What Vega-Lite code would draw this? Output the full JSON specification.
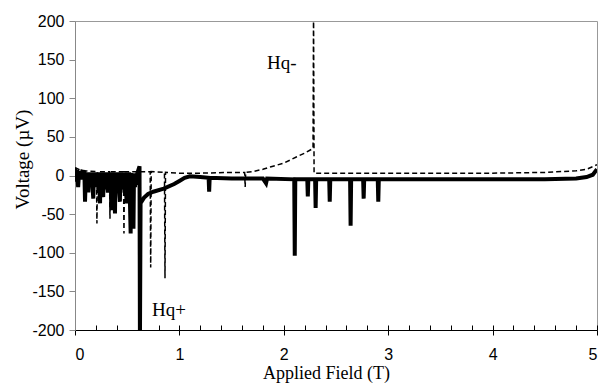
{
  "$schema": "https://vega.github.io/schema/vega-lite/v6.json",
  "width": 522,
  "height": 309,
  "autosize": {"type": "none"},
  "padding": {"left": 75, "top": 21, "right": 6, "bottom": 53},
  "background": "white",
  "config": {
    "view": {"stroke": "#999999", "strokeWidth": 1},
    "axis": {"grid": false}
  },
  "datasets": {
    "up": [
      {"x": 0.0, "y": 10}, {"x": 0.01, "y": -8}, {"x": 0.02, "y": 7}, {"x": 0.03, "y": -15}, {"x": 0.04, "y": 6},
      {"x": 0.06, "y": -5}, {"x": 0.07, "y": 5}, {"x": 0.09, "y": 4}, {"x": 0.096, "y": -34}, {"x": 0.105, "y": 4},
      {"x": 0.115, "y": -10}, {"x": 0.12, "y": 4}, {"x": 0.128, "y": -22}, {"x": 0.135, "y": 4},
      {"x": 0.15, "y": -12}, {"x": 0.16, "y": 4}, {"x": 0.175, "y": -30}, {"x": 0.18, "y": 4},
      {"x": 0.2, "y": -15}, {"x": 0.21, "y": 4}, {"x": 0.225, "y": -18}, {"x": 0.23, "y": 4},
      {"x": 0.24, "y": -36}, {"x": 0.245, "y": 4}, {"x": 0.255, "y": -14}, {"x": 0.26, "y": 4},
      {"x": 0.27, "y": -28}, {"x": 0.275, "y": 4}, {"x": 0.29, "y": -18}, {"x": 0.3, "y": 4},
      {"x": 0.315, "y": -22}, {"x": 0.32, "y": 4}, {"x": 0.335, "y": -15}, {"x": 0.34, "y": 4},
      {"x": 0.35, "y": -45}, {"x": 0.355, "y": 4}, {"x": 0.365, "y": -20}, {"x": 0.37, "y": 4},
      {"x": 0.383, "y": -49}, {"x": 0.388, "y": 4}, {"x": 0.4, "y": -16}, {"x": 0.41, "y": 4},
      {"x": 0.43, "y": -34}, {"x": 0.435, "y": 4}, {"x": 0.45, "y": -18}, {"x": 0.46, "y": 4},
      {"x": 0.475, "y": -22}, {"x": 0.48, "y": 4}, {"x": 0.495, "y": -36}, {"x": 0.5, "y": 4},
      {"x": 0.515, "y": -20}, {"x": 0.52, "y": 4}, {"x": 0.533, "y": -75}, {"x": 0.538, "y": 3},
      {"x": 0.548, "y": -25}, {"x": 0.552, "y": 3}, {"x": 0.56, "y": -69}, {"x": 0.565, "y": 3},
      {"x": 0.575, "y": -15}, {"x": 0.58, "y": 2}, {"x": 0.59, "y": -12}, {"x": 0.595, "y": 2},
      {"x": 0.618, "y": 12}, {"x": 0.622, "y": -215}, {"x": 0.628, "y": -36},
      {"x": 0.66, "y": -29}, {"x": 0.7, "y": -24}, {"x": 0.75, "y": -21}, {"x": 0.85, "y": -17},
      {"x": 0.95, "y": -11}, {"x": 1.0, "y": -7}, {"x": 1.05, "y": -3}, {"x": 1.1, "y": -1},
      {"x": 1.2, "y": -2}, {"x": 1.28, "y": -3}, {"x": 1.285, "y": -21}, {"x": 1.29, "y": -3},
      {"x": 1.5, "y": -4}, {"x": 1.8, "y": -4}, {"x": 1.83, "y": -10}, {"x": 1.84, "y": -4},
      {"x": 2.1, "y": -5}, {"x": 2.105, "y": -104}, {"x": 2.11, "y": -5},
      {"x": 2.225, "y": -5}, {"x": 2.23, "y": -27}, {"x": 2.235, "y": -5},
      {"x": 2.3, "y": -5}, {"x": 2.305, "y": -42}, {"x": 2.31, "y": -5},
      {"x": 2.435, "y": -5}, {"x": 2.44, "y": -34}, {"x": 2.445, "y": -5},
      {"x": 2.635, "y": -5}, {"x": 2.64, "y": -65}, {"x": 2.645, "y": -5},
      {"x": 2.76, "y": -5}, {"x": 2.765, "y": -30}, {"x": 2.77, "y": -5},
      {"x": 2.9, "y": -5}, {"x": 2.905, "y": -34}, {"x": 2.91, "y": -5},
      {"x": 3.5, "y": -5}, {"x": 4.0, "y": -5}, {"x": 4.5, "y": -5}, {"x": 4.8, "y": -4},
      {"x": 4.9, "y": -2}, {"x": 4.96, "y": 1}, {"x": 5.0, "y": 8}
    ],
    "down": [
      {"x": 0.0, "y": 10}, {"x": 0.05, "y": 7}, {"x": 0.1, "y": 6}, {"x": 0.205, "y": 5}, {"x": 0.21, "y": -62}, {"x": 0.215, "y": 5},
      {"x": 0.33, "y": 5}, {"x": 0.335, "y": -56}, {"x": 0.34, "y": 5},
      {"x": 0.464, "y": 5}, {"x": 0.469, "y": -75}, {"x": 0.474, "y": 5},
      {"x": 0.6, "y": 5}, {"x": 0.72, "y": 5}, {"x": 0.725, "y": -119}, {"x": 0.73, "y": 5},
      {"x": 0.857, "y": 4}, {"x": 0.862, "y": -133}, {"x": 0.867, "y": 4},
      {"x": 1.0, "y": 3}, {"x": 1.2, "y": 3}, {"x": 1.5, "y": 4}, {"x": 1.625, "y": 4}, {"x": 1.63, "y": -15}, {"x": 1.635, "y": 4},
      {"x": 1.7, "y": 5}, {"x": 1.8, "y": 8}, {"x": 1.87, "y": 11}, {"x": 2.0, "y": 16}, {"x": 2.12, "y": 24},
      {"x": 2.2, "y": 29}, {"x": 2.28, "y": 35}, {"x": 2.285, "y": 215}, {"x": 2.29, "y": 3},
      {"x": 2.5, "y": 3}, {"x": 3.0, "y": 3}, {"x": 3.5, "y": 3}, {"x": 4.0, "y": 3}, {"x": 4.5, "y": 4},
      {"x": 4.8, "y": 6}, {"x": 4.9, "y": 8}, {"x": 5.0, "y": 14}
    ],
    "labels": [
      {"x": 1.98, "y": 146, "label": "Hq-"},
      {"x": 0.9, "y": -174, "label": "Hq+"}
    ]
  },
  "resolve": {"axis": {"x": "independent", "y": "independent"}},
  "layer": [
    {
      "data": {"name": "down"},
      "mark": {"type": "line", "color": "black", "strokeWidth": 1.5, "strokeDash": [5, 3], "clip": true},
      "encoding": {
        "x": {"field": "x", "type": "quantitative", "scale": {"domain": [0, 5], "nice": false, "zero": false},
          "axis": {"orient": "bottom", "values": [0, 0.2, 0.4, 0.6, 0.8, 1, 1.2, 1.4, 1.6, 1.8, 2, 2.2, 2.4, 2.6, 2.8, 3, 3.2, 3.4, 3.6, 3.8, 4, 4.2, 4.4, 4.6, 4.8, 5],
            "tickSize": -5, "tickColor": "black", "tickWidth": 1, "labels": false, "title": null, "domain": false}},
        "y": {"field": "y", "type": "quantitative", "scale": {"domain": [-200, 200], "nice": false},
          "axis": null},
        "order": {"field": "x"}
      }
    },
    {
      "data": {"name": "up"},
      "mark": {"type": "line", "color": "black", "strokeWidth": 4, "clip": true},
      "encoding": {
        "x": {"field": "x", "type": "quantitative", "scale": {"domain": [0, 5], "nice": false, "zero": false},
          "axis": {"orient": "bottom", "values": [0, 1, 2, 3, 4, 5], "tickSize": 5, "tickColor": "black", "domainColor": "black", "domainWidth": 1.2,
            "labelFont": "Liberation Sans", "labelFontSize": 16, "labelColor": "black", "labelPadding": 11,
            "labelExpr": "toString(datum.value)",
            "title": "Applied Field (T)", "titleFont": "Times New Roman, Liberation Serif, serif", "titleFontSize": 18, "titleFontWeight": "normal", "titleColor": "black",
            "titleX": 251, "titleY": 48, "titleBaseline": "alphabetic"}},
        "y": {"field": "y", "type": "quantitative", "scale": {"domain": [-200, 200], "nice": false},
          "axis": {"orient": "left", "values": [-200, -150, -100, -50, 0, 50, 100, 150, 200], "tickSize": 6, "tickColor": "#888888", "domainColor": "#888888",
            "labelFont": "Liberation Sans", "labelFontSize": 16, "labelColor": "black", "labelPadding": 5,
            "labelExpr": "toString(datum.value)",
            "title": "Voltage (µV)", "titleFont": "Times New Roman, Liberation Serif, serif", "titleFontSize": 19, "titleFontWeight": "normal", "titleColor": "black",
            "titleX": -47, "titleY": 138, "titleBaseline": "alphabetic"}},
        "order": {"field": "x"}
      }
    },
    {
      "data": {"name": "labels"},
      "mark": {"type": "text", "font": "Times New Roman, Liberation Serif, serif", "fontSize": 19, "color": "black", "align": "center", "baseline": "middle"},
      "encoding": {
        "x": {"field": "x", "type": "quantitative", "scale": {"domain": [0, 5], "nice": false, "zero": false}, "axis": null},
        "y": {"field": "y", "type": "quantitative", "scale": {"domain": [-200, 200], "nice": false}, "axis": null},
        "text": {"field": "label"}
      }
    }
  ]
}
